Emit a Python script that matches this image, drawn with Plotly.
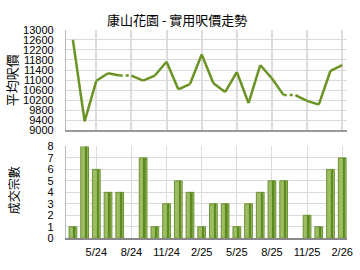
import plotly.graph_objects as go

months = ["3/24","4/24","5/24","6/24","7/24","8/24","9/24","10/24","11/24","12/24",
          "1/25","2/25","3/25","4/25","5/25","6/25","7/25","8/25","9/25","10/25",
          "11/25","12/25","1/26","2/26"]
price = [12600, 9350, 10970, 11270, 11180, None, 10980, 11180, 11730, 10630,
         10840, 12020, 10870, 10520, 11320, 10080, 11600, 11060, 10400, None,
         10170, 10020, 11370, 11600]
deals = [1, 8, 6, 4, 4, 0, 7, 1, 3, 5, 4, 1, 3, 3, 1, 3, 4, 5, 5, 0, 2, 1, 6, 7]
tick_labels = ["5/24", "8/24", "11/24", "2/25", "5/25", "8/25", "11/25", "2/26"]
price_ticks = [9000, 9400, 9800, 10200, 10600, 11000, 11400, 11800, 12200, 12600, 13000]

x = list(range(len(months)))
tick_pos = [months.index(t) for t in tick_labels]

# carry forward missing months; segments into a missing month are dotted
filled = []
last = None
for p in price:
    if p is not None:
        last = p
    filled.append(last)

sx, sy, dx, dy = [], [], [], []
for i in range(1, len(x)):
    if price[i] is None:
        dx += [x[i-1], x[i], None]
        dy += [filled[i-1], filled[i], None]
    else:
        sx += [x[i-1], x[i], None]
        sy += [filled[i-1], filled[i], None]

LINE = "#6b9323"
fig = go.Figure()
fig.add_trace(go.Scatter(x=sx, y=sy, mode="lines", line=dict(color=LINE, width=2.5),
                         xaxis="x", yaxis="y", hoverinfo="skip"))
fig.add_trace(go.Scatter(x=dx, y=dy, mode="lines", line=dict(color=LINE, width=2.5, dash="dot"),
                         xaxis="x", yaxis="y", hoverinfo="skip"))

edge_w = [1 if d > 0 else 0 for d in deals]
fig.add_trace(go.Bar(x=x, y=deals, width=0.66, offset=-0.33,
                     marker=dict(color="#9dbd63", line=dict(color="#6d9236", width=edge_w)),
                     xaxis="x2", yaxis="y2"))
fig.add_trace(go.Bar(x=x, y=deals, width=0.16, offset=0.06,
                     marker=dict(color="#5e8a22", line=dict(width=0)),
                     xaxis="x2", yaxis="y2"))

font = dict(family="Liberation Sans, Arial, sans-serif", size=11, color="#000")
grid = "#dcdcdc"
xr = [-0.6, 23.42]
xd = [67/360, 353/360]
fig.update_layout(
    width=360, height=270, margin=dict(l=0, r=0, t=0, b=0),
    paper_bgcolor="white", plot_bgcolor="white", showlegend=False,
    barmode="overlay", font=font,
    xaxis=dict(domain=xd, range=xr, tickvals=tick_pos, showticklabels=False,
               showgrid=True, gridcolor=grid, gridwidth=2, zeroline=False,
               showline=True, linecolor="#999", linewidth=2, anchor="y", mirror=False),
    yaxis=dict(domain=[1-130/270, 1-25/270], range=[9000, 13000], tickvals=price_ticks,
               ticktext=[str(v) for v in price_ticks],
               showgrid=True, gridcolor=grid, gridwidth=1, zeroline=False,
               showline=True, linecolor="#bbb", linewidth=1, ticks="", ticklabelstandoff=9,
               anchor="x"),
    xaxis2=dict(domain=xd, range=xr, tickvals=tick_pos, ticktext=tick_labels,
                showgrid=True, gridcolor=grid, gridwidth=1, zeroline=False,
                showline=True, linecolor="#888", linewidth=2, anchor="y2", ticks="",
                ticklabelstandoff=3),
    yaxis2=dict(domain=[1-243/270, 1-147/270], range=[0, 8], dtick=1,
                showgrid=True, gridcolor=grid, gridwidth=1, zeroline=False,
                showline=True, linecolor="#bbb", linewidth=1, ticks="", ticklabelstandoff=9,
                anchor="x2"),
    annotations=[
        dict(text="康山花園 - 實用呎價走勢", x=180/360, y=1-14/270, xref="paper", yref="paper",
             xanchor="center", yanchor="middle",
             showarrow=False, font=dict(family="Noto Sans CJK TC", size=13, color="#000")),
        dict(text="平均呎價", x=12/360, y=1-78/270, xref="paper", yref="paper", textangle=-90,
             xanchor="center", yanchor="middle",
             showarrow=False, font=dict(family="Noto Sans CJK TC", size=13, color="#000")),
        dict(text="成交宗數", x=14/360, y=1-193/270, xref="paper", yref="paper", textangle=-90,
             xanchor="center", yanchor="middle",
             showarrow=False, font=dict(family="Noto Sans CJK TC", size=12, color="#000")),
    ],
)
fig.write_html("out.html")
